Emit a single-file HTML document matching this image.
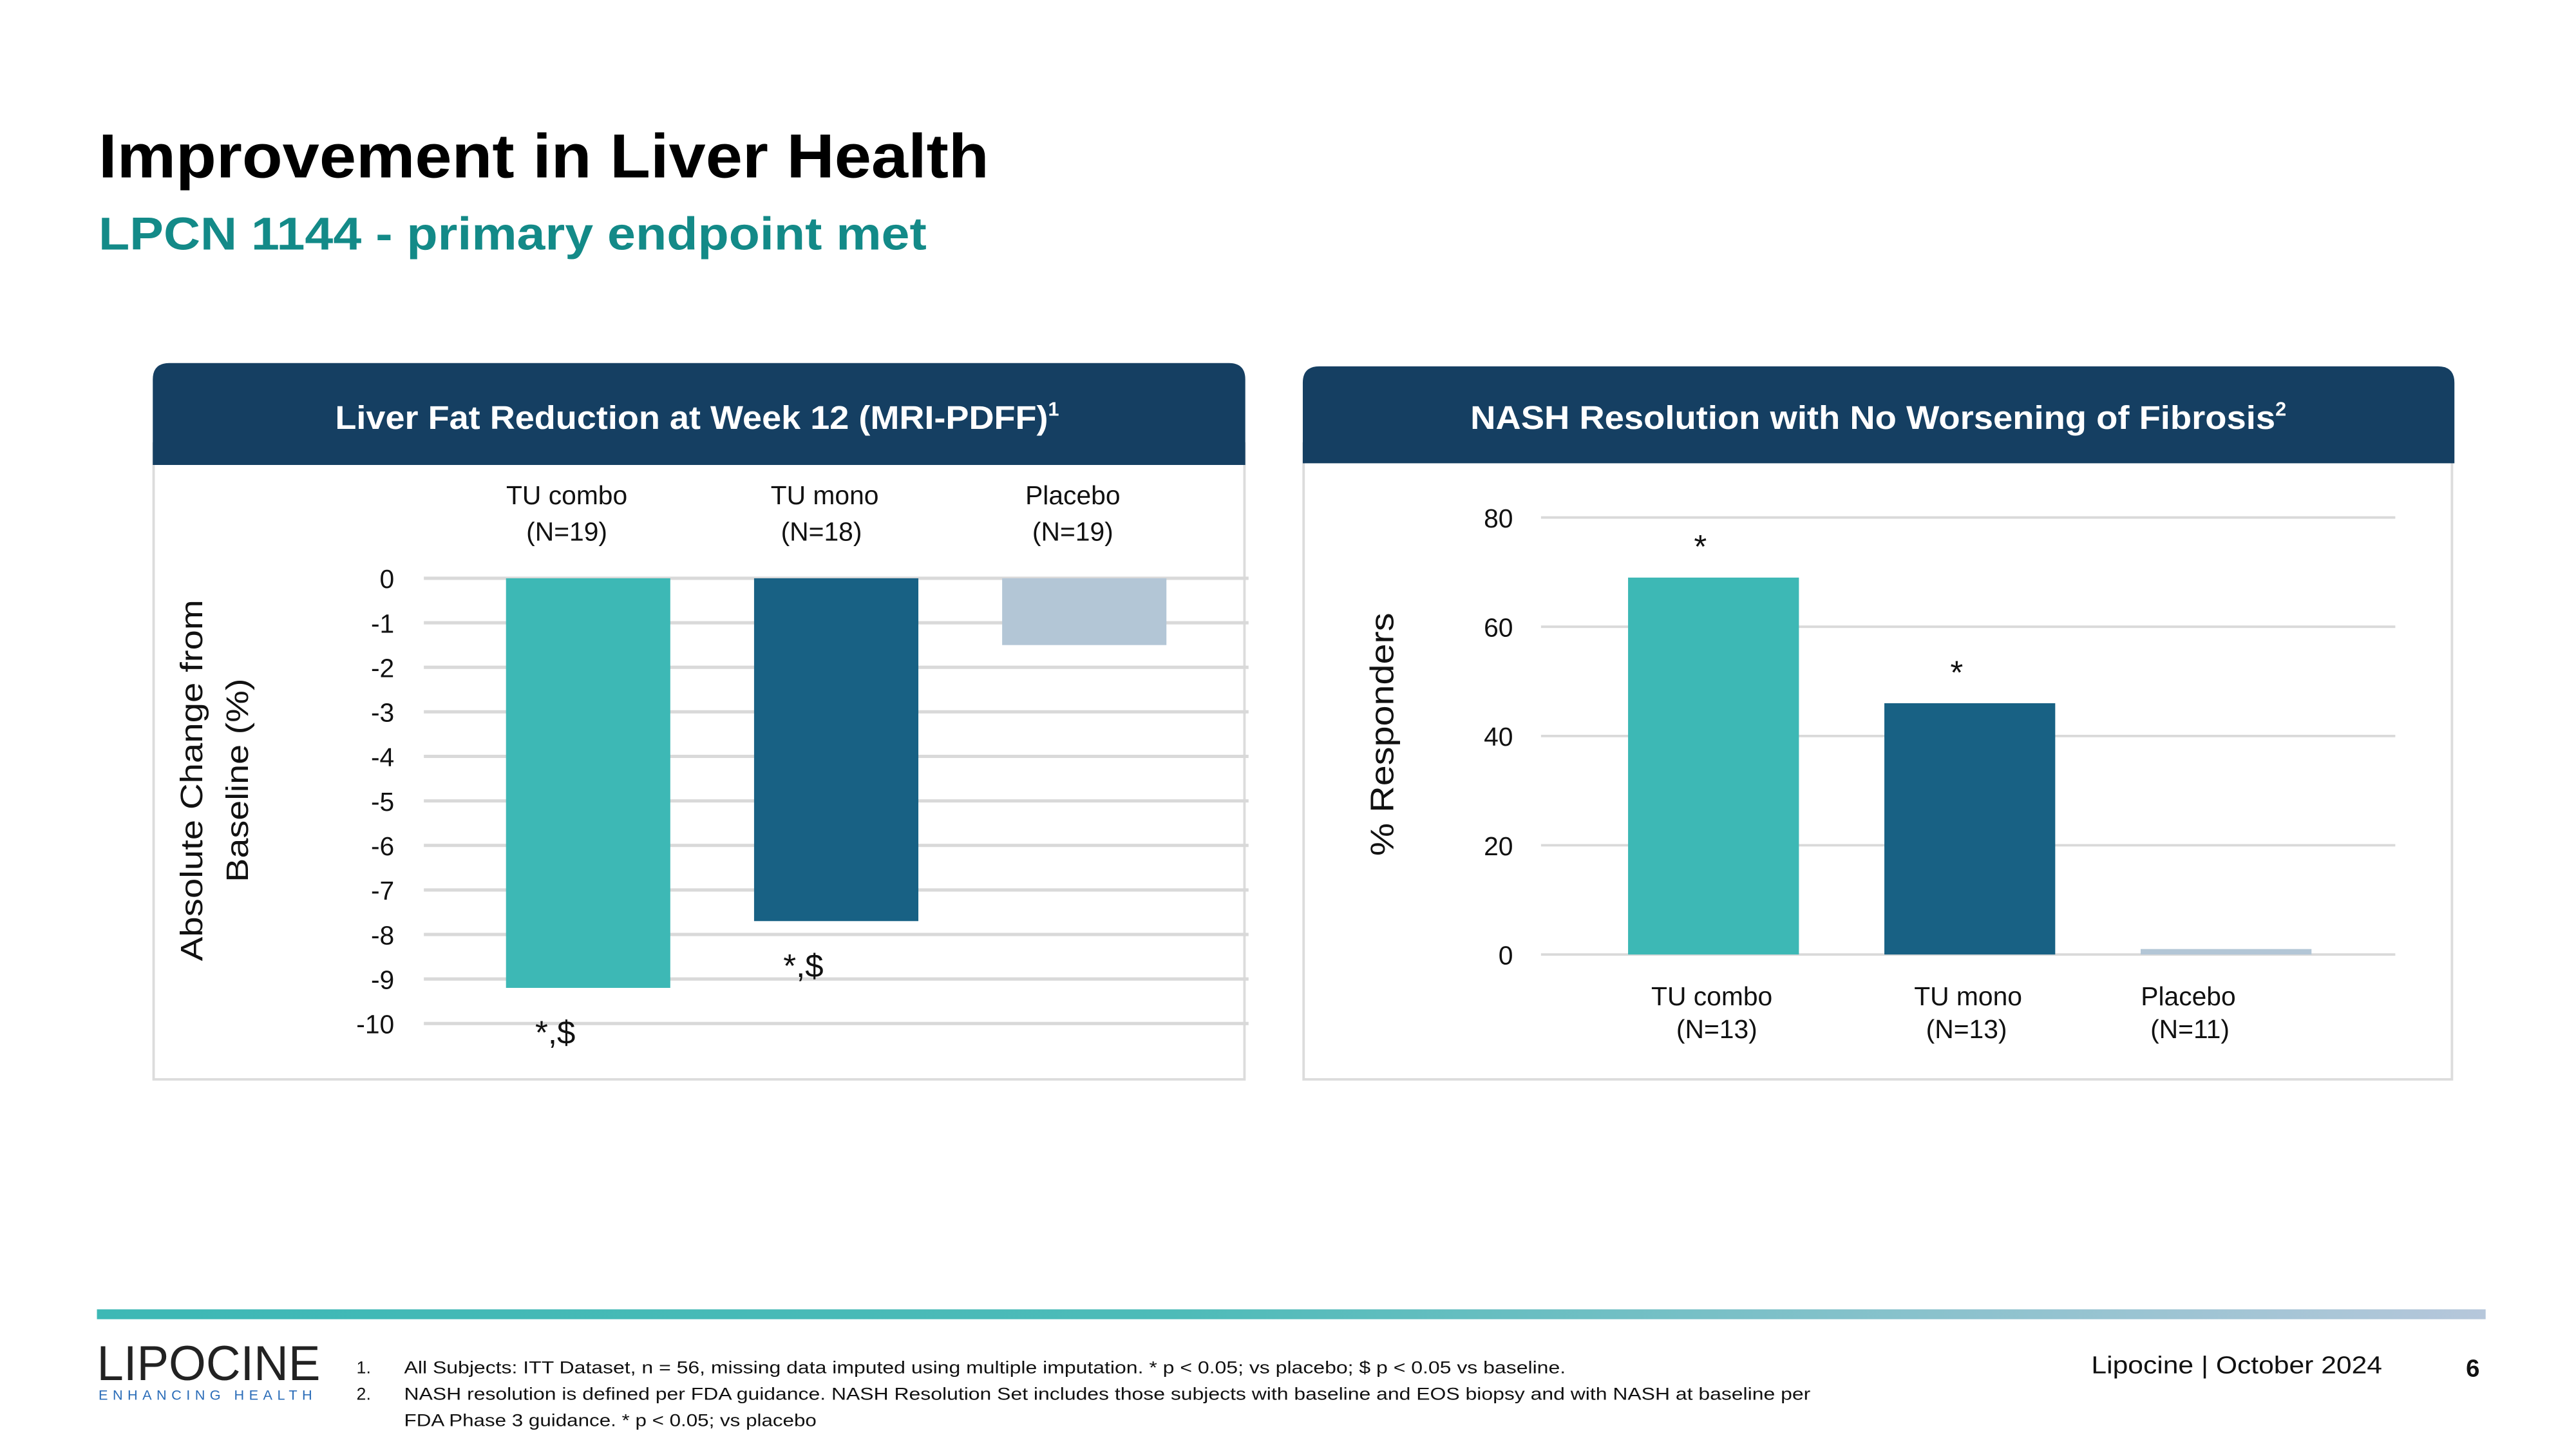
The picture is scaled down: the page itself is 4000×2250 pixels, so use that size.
<!DOCTYPE html>
<html><head><meta charset="utf-8"><style>
html,body{margin:0;padding:0;background:#fff;}
svg{display:block;font-family:"Liberation Sans",sans-serif;}
</style></head><body>
<svg id="s" width="4000" height="2250" viewBox="0 0 1568 882" xmlns="http://www.w3.org/2000/svg">
<text x="60" y="108" font-size="38" font-weight="bold" fill="#000" textLength="542" lengthAdjust="spacingAndGlyphs">Improvement in Liver Health</text>
<text x="60" y="152" font-size="28" font-weight="bold" fill="#138a88" textLength="504" lengthAdjust="spacingAndGlyphs">LPCN 1144 - primary endpoint met</text>

<g>
<rect x="93.5" y="270" width="664" height="387" fill="#fff" stroke="#dcdcdc" stroke-width="1.5"/>
<path d="M93 283 V231 Q93 221 103 221 H748 Q758 221 758 231 V283 Z" fill="#153f62"/>
<text x="204" y="261" font-size="20" font-weight="bold" fill="#fff"><tspan textLength="434" lengthAdjust="spacingAndGlyphs">Liver Fat Reduction at Week 12 (MRI-PDFF)</tspan><tspan font-size="12" dy="-8">1</tspan></text>
<g id="lc"></g>
</g>

<g>
<rect x="793.5" y="270" width="699" height="387" fill="#fff" stroke="#dcdcdc" stroke-width="1.5"/>
<path d="M793 282 V233 Q793 223 803 223 H1484 Q1494 223 1494 233 V282 Z" fill="#153f62"/>
<text x="895" y="261" font-size="20" font-weight="bold" fill="#fff"><tspan textLength="490" lengthAdjust="spacingAndGlyphs">NASH Resolution with No Worsening of Fibrosis</tspan><tspan font-size="12" dy="-8">2</tspan></text>
<g id="rc"></g>
</g>

<defs><linearGradient id="fg" x1="0" x2="1"><stop offset="0" stop-color="#3db8b5"/><stop offset="0.45" stop-color="#4dbbb8"/><stop offset="1" stop-color="#b6c7db"/></linearGradient></defs>
<rect x="59" y="797" width="1454" height="6" fill="url(#fg)"/>
<text x="59" y="840" font-size="30" fill="#222" textLength="136" lengthAdjust="spacingAndGlyphs">LIPOCINE</text>
<text x="60" y="852" font-size="8.5" fill="#2a6cb8" textLength="130" lengthAdjust="spacing">ENHANCING HEALTH</text>
<g font-size="10.5" fill="#111">
<text x="217" y="836">1.</text><text x="246" y="836" textLength="707" lengthAdjust="spacingAndGlyphs">All Subjects: ITT Dataset, n = 56, missing data imputed using multiple imputation. * p &lt; 0.05; vs placebo; $ p &lt; 0.05 vs baseline.</text>
<text x="217" y="852">2.</text><text x="246" y="852" textLength="856" lengthAdjust="spacingAndGlyphs">NASH resolution is defined per FDA guidance. NASH Resolution Set includes those subjects with baseline and EOS biopsy and with NASH at baseline per</text>
<text x="246" y="868" textLength="251" lengthAdjust="spacingAndGlyphs">FDA Phase 3 guidance. * p &lt; 0.05; vs placebo</text>
</g>
<text x="1273" y="836" font-size="15" fill="#111" textLength="177" lengthAdjust="spacingAndGlyphs">Lipocine | October 2024</text>
<text x="1501" y="838" font-size="15" font-weight="bold" fill="#111">6</text>
</svg>
<script>
const NS="http://www.w3.org/2000/svg";
const leftCats=["TU combo","TU mono","Placebo"];
const leftN=["(N=19)","(N=18)","(N=19)"];
const leftVals=[-9.2,-7.7,-1.5];
const leftNotes=["*,$","*,$",""];
const leftTicks=[0,-1,-2,-3,-4,-5,-6,-7,-8,-9,-10];
const rightCats=["TU combo","TU mono","Placebo"];
const rightN=["(N=13)","(N=13)","(N=11)"];
const rightVals=[69,46,1];
const rightNotes=["*","*",""];
const rightTicks=[0,20,40,60,80];
const colors=["#3db8b5","#186184","#b3c6d6"];

function mk(p,tag,a,txt){const e=document.createElementNS(NS,tag);for(const k in a)e.setAttribute(k,a[k]);if(txt!==undefined)e.textContent=txt;p.appendChild(e);return e;}

// Left chart
const lc=document.getElementById('lc');
const ly=v=>352+(-v)*27.1;
const lx=i=>308+i*151;
leftTicks.forEach(t=>{
 const l=mk(lc,'line',{x1:258,x2:760,y1:ly(t),y2:ly(t),stroke:'#d9d9d9','stroke-width':2});
 
 
 const tx=mk(lc,'text',{x:240,y:ly(t)+6,'font-size':16,'text-anchor':'end',fill:'#111'},String(t));
 
 
});
leftVals.forEach((v,i)=>{
 const r=mk(lc,'rect',{x:lx(i),y:ly(0),width:100,height:ly(v)-ly(0),fill:colors[i]});
 
 
 const c=mk(lc,'text',{x:lx(i)+37+(i==1?6:0)+(i==2?6:0),y:307,'font-size':16,'text-anchor':'middle',fill:'#111'},leftCats[i]);
 
 
 const n=mk(lc,'text',{x:lx(i)+37+(i==1?4:0)+(i==2?6:0),y:329,'font-size':16,'text-anchor':'middle',fill:'#111'},leftN[i]);
 
 
 if(leftNotes[i]){
  const a=mk(lc,'text',{x:lx(i)+30,y:ly(v)+34,'font-size':20,'text-anchor':'middle',fill:'#111'},leftNotes[i]);
  
  
 }
});
const lt=mk(lc,'text',{transform:'translate(123,475) rotate(-90)','font-size':19,'text-anchor':'middle',fill:'#111',textLength:220,lengthAdjust:'spacingAndGlyphs'},'Absolute Change from');


const lt2=mk(lc,'text',{transform:'translate(151,475) rotate(-90)','font-size':19,'text-anchor':'middle',fill:'#111',textLength:124,lengthAdjust:'spacingAndGlyphs'},'Baseline  (%)');



// Right chart
const rc=document.getElementById('rc');
const ry=v=>581-v*3.325;
const rx=i=>991+i*156;
rightTicks.forEach(t=>{
 const l=mk(rc,'line',{x1:938,x2:1458,y1:ry(t),y2:ry(t),stroke:'#d9d9d9','stroke-width':1.5});
 
 
 const tx=mk(rc,'text',{x:921,y:ry(t)+6,'font-size':16,'text-anchor':'end',fill:'#111'},String(t));
 
 
});
rightVals.forEach((v,i)=>{
 const r=mk(rc,'rect',{x:rx(i),y:ry(v),width:104,height:ry(0)-ry(v),fill:colors[i]});
 
 
 const c=mk(rc,'text',{x:rx(i)+51+(i==2?-22:0),y:612,'font-size':16,'text-anchor':'middle',fill:'#111'},rightCats[i]);
 
 
 const n=mk(rc,'text',{x:rx(i)+54+(i==1?-4:0)+(i==2?-24:0),y:632,'font-size':16,'text-anchor':'middle',fill:'#111'},rightN[i]);
 
 
 if(rightNotes[i]){
  const a=mk(rc,'text',{x:rx(i)+44,y:ry(v)-12,'font-size':20,'text-anchor':'middle',fill:'#111'},rightNotes[i]);
  
  
 }
});
const rt=mk(rc,'text',{transform:'translate(848,447) rotate(-90)','font-size':20,'text-anchor':'middle',fill:'#111',textLength:148,lengthAdjust:'spacingAndGlyphs'},'% Responders');


</script>
</body></html>
